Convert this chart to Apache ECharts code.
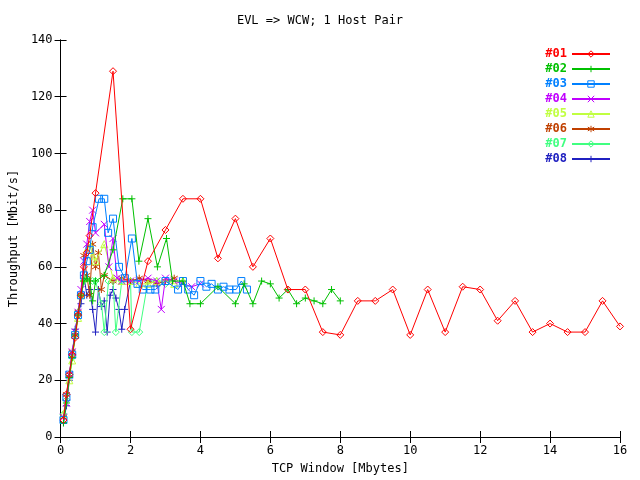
<!DOCTYPE html>
<html>
<head>
<meta charset="utf-8">
<script src="https://cdn.jsdelivr.net/npm/echarts@6/dist/echarts.min.js"></script>
<style>html,body{margin:0;padding:0;background:#fff}#main{width:640px;height:480px}</style>
</head>
<body>
<div id="main"></div>
<script>
var names = ['#01', '#02', '#03', '#04', '#05', '#06', '#07', '#08'];
var colors = ['#ff0000', '#00c000', '#0080ff', '#c000ff', '#c0ff40', '#c04000', '#40ff80', '#2020c0'];

var s01 = [[0.083,6],[0.167,15],[0.25,22],[0.333,29],[0.417,35],[0.5,43],[0.583,50],[0.667,60],[0.75,65],[0.83,71],[1.0,86],[1.5,129],[2.0,38],[2.5,62],[3,73],[3.5,84],[4,84],[4.5,63],[5,77],[5.5,60],[6,70],[6.5,52],[7,52],[7.5,37],[8,36],[8.5,48],[9,48],[9.5,52],[10,36],[10.5,52],[11,37],[11.5,53],[12,52],[12.5,41],[13,48],[13.5,37],[14,40],[14.5,37],[15,37],[15.5,48],[16,39]];
var s02 = [[0.083,5],[0.167,12],[0.25,21],[0.333,28],[0.417,36],[0.5,43],[0.583,50],[0.667,55],[0.75,56],[0.833,55],[0.917,48],[1,55],[1.25,57],[1.5,66],[1.78,84],[2.04,84],[2.24,62],[2.5,77],[2.77,60],[3.03,70],[3.2,55],[3.5,55],[3.7,47],[4.0,47],[4.5,53],[5.0,47],[5.25,54],[5.5,47],[5.75,55],[6,54],[6.25,49],[6.5,52],[6.75,47],[7,49],[7.25,48],[7.5,47],[7.75,52],[8,48]];
var s03 = [[0.083,6],[0.167,14],[0.25,22],[0.333,29],[0.417,36],[0.5,43],[0.583,50],[0.667,57],[0.75,62],[0.833,66],[0.917,74],[1.1,84],[1.25,84],[1.36,72],[1.5,77],[1.67,60],[1.84,56],[2.04,70],[2.2,54],[2.35,52],[2.57,52],[2.71,52],[3.0,55],[3.36,52],[3.5,55],[3.65,52],[3.82,50],[4.0,55],[4.17,53],[4.32,54],[4.5,52],[4.66,53],[4.83,52],[5.02,52],[5.17,55],[5.33,52]];
var s04 = [[0.083,7],[0.167,12],[0.25,22],[0.333,30],[0.417,37],[0.5,44],[0.583,52],[0.667,62],[0.75,68],[0.833,76],[0.917,80],[1.0,72],[1.25,75],[1.38,60],[1.5,70],[1.62,56],[1.75,55],[2.0,55],[2.25,55],[2.5,56],[2.75,55],[2.88,45],[3.0,56],[3.25,55],[3.5,54],[3.75,53],[4.0,54]];
var s05 = [[0.083,8],[0.25,20],[0.333,27],[0.5,42],[0.583,50],[0.667,56],[0.75,66],[0.833,68],[0.917,64],[1.0,62],[1.25,68],[1.5,56],[1.75,55],[2.0,55],[2.25,54],[2.5,54],[2.75,55],[3.0,55],[3.25,54],[3.5,55]];
var s06 = [[0.083,7],[0.167,15],[0.25,22],[0.333,30],[0.417,36],[0.5,44],[0.583,50],[0.667,64],[0.75,57],[0.833,50],[0.917,68],[1.0,60],[1.083,65],[1.167,52],[1.25,57],[1.5,55],[1.75,56],[2.0,55],[2.25,56],[2.5,55],[2.75,54],[3.0,55],[3.25,56]];
var s07 = [[0.083,8],[0.167,13],[0.25,22],[0.333,28],[0.417,36],[0.5,44],[0.583,50],[0.667,55],[0.75,56],[0.917,55],[1.0,55],[1.17,47],[1.25,37],[1.37,55],[1.5,55],[1.58,37],[1.75,55],[2.0,55],[2.04,37],[2.25,37],[2.5,55],[2.75,55],[3.0,54]];
var s08 = [[0.083,5],[0.167,11],[0.25,20],[0.333,29],[0.417,38],[0.5,43],[0.583,47],[0.667,57],[0.75,50],[0.833,52],[0.917,45],[1.0,37],[1.083,52],[1.167,46],[1.25,48],[1.333,37],[1.417,50],[1.5,52],[1.583,49],[1.667,45],[1.75,38],[1.833,45],[2.0,55]];
var allData = [s01, s02, s03, s04, s05, s06, s07, s08];

var symbols = [
  'diamond',
  'path://M5,0L5,10M0,5L10,5',
  'rect',
  'path://M0,0L10,10M10,0L0,10',
  'triangle',
  'path://M5,0L5,10M0,2L10,8M10,2L0,8',
  'diamond',
  'path://M5,0L5,10M0,5L10,5'
];

var font = 'DejaVu Sans Mono';
var chart = echarts.init(document.getElementById('main'));

var series = names.map(function (n, i) {
  return {
    name: n,
    type: 'line',
    data: allData[i],
    symbol: symbols[i],
    symbolSize: 7,
    showAllSymbol: true,
    color: colors[i],
    lineStyle: { width: 1, color: colors[i] },
    itemStyle: { color: 'transparent', borderColor: colors[i], borderWidth: 1 },
    animation: false,
    z: 10 - i
  };
});

chart.setOption({
  backgroundColor: '#fff',
  title: {
    text: 'EVL => WCW; 1 Host Pair',
    left: 'center', top: 10,
    textStyle: { fontFamily: font, fontSize: 12, fontWeight: 'normal', color: '#000' }
  },
  legend: {
    orient: 'vertical',
    right: 24, top: 43,
    align: 'right',
    itemWidth: 38, itemHeight: 8, itemGap: 3,
    data: names.map(function (n, i) {
      return {
        name: n,
        textStyle: { color: colors[i] },
        itemStyle: { color: 'transparent', borderColor: colors[i], borderWidth: 1 }
      };
    }),
    textStyle: { fontFamily: font, fontSize: 12, fontWeight: 'bold' }
  },
  grid: { left: 48, right: 20, top: 40, bottom: 33 },
  xAxis: [{
    type: 'value', min: 0, max: 16, interval: 2,
    name: 'TCP Window [Mbytes]', nameLocation: 'middle', nameGap: 26,
    nameTextStyle: { fontFamily: font, fontSize: 12, color: '#000' },
    axisLine: { lineStyle: { color: '#000' } },
    axisTick: { inside: true, length: 6, lineStyle: { color: '#000' } },
    axisLabel: { fontFamily: font, fontSize: 12, color: '#000' },
    splitLine: { show: false }
  }, {
    type: 'value', min: 0, max: 16, interval: 2, position: 'top',
    axisLine: { lineStyle: { color: '#000' } },
    axisTick: { inside: true, length: 6, lineStyle: { color: '#000' } },
    axisLabel: { show: false }, splitLine: { show: false }
  }],
  yAxis: [{
    type: 'value', min: 0, max: 140, interval: 20,
    name: 'Throughput [Mbit/s]', nameLocation: 'middle', nameGap: 36,
    nameTextStyle: { fontFamily: font, fontSize: 12, color: '#000' },
    axisLine: { show: true, lineStyle: { color: '#000' } },
    axisTick: { show: true, inside: true, length: 6, lineStyle: { color: '#000' } },
    axisLabel: { fontFamily: font, fontSize: 12, color: '#000' },
    splitLine: { show: false }
  }, {
    type: 'value', min: 0, max: 140, interval: 20, position: 'right',
    axisLine: { show: true, lineStyle: { color: '#000' } },
    axisTick: { show: true, inside: true, length: 6, lineStyle: { color: '#000' } },
    axisLabel: { show: false }, splitLine: { show: false }
  }],
  series: series
});
</script>
</body>
</html>
